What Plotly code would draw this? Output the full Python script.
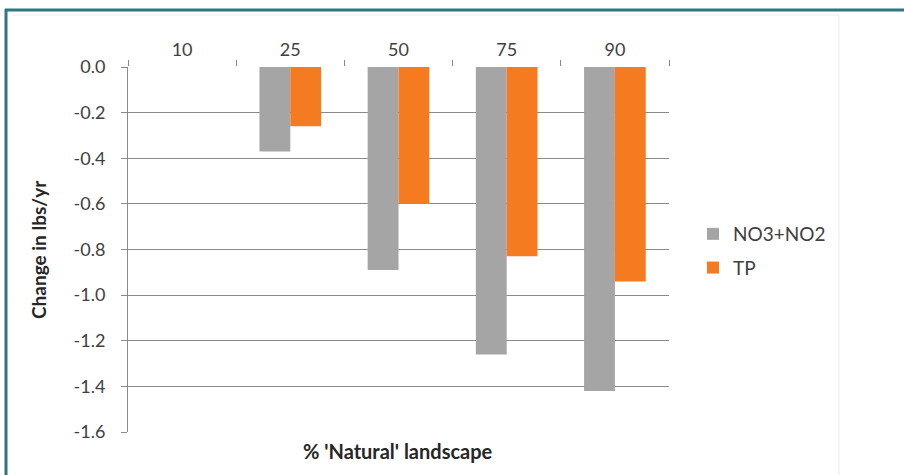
import plotly.graph_objects as go

categories = ["10", "25", "50", "75", "90"]
no3_no2 = [0.0, -0.37, -0.89, -1.26, -1.42]
tp = [0.0, -0.26, -0.60, -0.83, -0.94]
series_names = ["NO3+NO2", "TP"]
y_ticks = [0.0, -0.2, -0.4, -0.6, -0.8, -1.0, -1.2, -1.4, -1.6]
y_tick_text = ["0.0", "-0.2", "-0.4", "-0.6", "-0.8", "-1.0", "-1.2", "-1.4", "-1.6"]

W, H = 904, 475
L, R, T, B = 128, 669, 67, 432
pw, ph = R - L, B - T

def px(x):
    return (x - L) / pw

def py(y):
    return (B - y) / ph

font_family = "Lato, 'Open Sans', sans-serif"
tick_color = "#404040"

fig = go.Figure()
fig.add_trace(go.Bar(x=categories, y=no3_no2, name=series_names[0], legendgroup="a",
                     marker=dict(color="#a5a5a5", line=dict(width=0))))
fig.add_trace(go.Bar(x=categories, y=tp, name=series_names[1], legendgroup="b",
                     marker=dict(color="#f47b20", line=dict(width=0))))

fig.update_layout(
    width=W, height=H,
    margin=dict(l=L, r=W - R, t=T, b=H - B, pad=0),
    paper_bgcolor="white", plot_bgcolor="white",
    barmode="group", bargap=0.43, bargroupgap=0,
    font=dict(family=font_family, size=18, color=tick_color),
    showlegend=True,
    legend=dict(x=px(693), y=py(215), xanchor="left", yanchor="top",
                font=dict(size=19, color="#404040"),
                itemwidth=30, tracegroupgap=6, bgcolor="rgba(0,0,0,0)"),
    xaxis=dict(side="top", type="category", showline=False, showgrid=False,
               ticks="outside", tickson="boundaries", ticklen=6, tickcolor="#888888",
               ticklabelstandoff=6,
               tickfont=dict(size=18, color=tick_color), zeroline=False),
    yaxis=dict(range=[-1.6, 0.0], tickvals=y_ticks, ticktext=y_tick_text,
               showgrid=True, gridcolor="#8a8a8a", gridwidth=1,
               showline=True, linecolor="#8a8a8a", linewidth=1,
               ticks="outside", ticklen=6, tickcolor="#8a8a8a",
               ticklabelstandoff=12,
               tickfont=dict(size=18, color=tick_color), zeroline=False),
)

# y-axis title
fig.add_annotation(text="<b>Change in lbs/yr</b>", xref="paper", yref="paper",
                   x=px(38), y=py(250), showarrow=False, textangle=-90,
                   xanchor="center", yanchor="middle",
                   font=dict(size=19, color="#262626"))

# x-axis title at bottom
fig.add_annotation(text="<b>% 'Natural' landscape</b>", xref="paper", yref="paper",
                   x=px(398), y=py(451), showarrow=False, xanchor="center", yanchor="middle",
                   font=dict(size=20, color="#262626"))

# outer teal frame
teal = "#2f7682"
fig.add_shape(type="line", xref="paper", yref="paper", x0=px(5), x1=px(910), y0=py(10), y1=py(10),
              line=dict(color=teal, width=3))
fig.add_shape(type="line", xref="paper", yref="paper", x0=px(6), x1=px(6), y0=py(9), y1=py(480),
              line=dict(color=teal, width=3))
# faint chart-area border
fig.add_shape(type="line", xref="paper", yref="paper", x0=px(839), x1=px(839), y0=py(15), y1=py(480),
              line=dict(color="#ececec", width=1))
fig.add_shape(type="line", xref="paper", yref="paper", x0=px(12), x1=px(839), y0=py(15), y1=py(15),
              line=dict(color="#ececec", width=1))

fig.write_html("out.html", config={"displayModeBar": False},
               post_script="document.body.style.margin='0';")
